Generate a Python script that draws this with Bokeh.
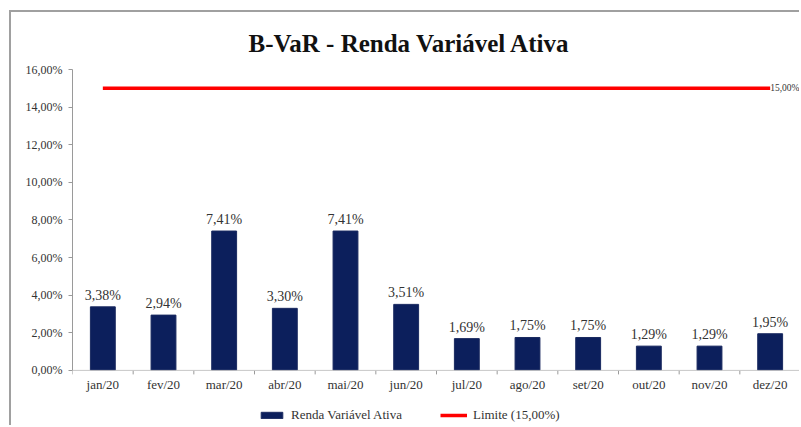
import math
from bokeh.plotting import figure
from bokeh.models import (ColumnDataSource, FixedTicker, LabelSet, Label, Legend,
                          LegendItem, Range1d, Title, Span)
from bokeh.embed import file_html
from bokeh.resources import INLINE

# ---- data ----
months = ["jan/20", "fev/20", "mar/20", "abr/20", "mai/20", "jun/20",
          "jul/20", "ago/20", "set/20", "out/20", "nov/20", "dez/20"]
var_values = [3.38, 2.94, 7.41, 3.30, 7.41, 3.51, 1.69, 1.75, 1.75, 1.29, 1.29, 1.95]
limit_values = [15.00, 15.00, 15.00, 15.00, 15.00, 15.00,
                15.00, 15.00, 15.00, 15.00, 15.00, 15.00]
y_ticks = [0, 2, 4, 6, 8, 10, 12, 14, 16]
y_tick_labels = ["0,00%", "2,00%", "4,00%", "6,00%", "8,00%", "10,00%",
                 "12,00%", "14,00%", "16,00%"]
title_text = "B-VaR - Renda Variável Ativa"
series_name = "Renda Variável Ativa"
limit_name = "Limite (15,00%)"


def pct(v):
    return ("%.2f" % v).replace(".", ",") + "%"


centers = [i + 0.5 for i in range(len(months))]
bounds = [i for i in range(len(months) + 1)]

src = ColumnDataSource(dict(
    x=centers, y=var_values, lim=limit_values, month=months,
    zero=[0] * len(months), lbl=[pct(v) for v in var_values],
))
tick_src = ColumnDataSource(dict(x=bounds, y=[0] * len(bounds)))

FONT = "Liberation Serif"
NAVY = "#0c1f5c"
TXT = "#333333"

p = figure(width=790, height=415, output_backend="svg", toolbar_location=None,
           x_range=Range1d(0, len(months)), y_range=Range1d(-2.93, 16),
           min_border_left=61, min_border_right=1, min_border_top=57,
           min_border_bottom=2, outline_line_color=None)
p.styles = {"margin-left": "9px", "margin-top": "10px",
            "border-left": "2px solid #a0a0a0", "border-top": "2px solid #a0a0a0"}

p.title = Title(text=title_text, align="left", offset=176, text_font=FONT,
                text_font_size="25px", text_font_style="bold",
                text_color="#111111", standoff=25)

p.xgrid.visible = False
p.ygrid.visible = False
p.xaxis.visible = False

bars = p.vbar(x="x", top="y", width=0.41, source=src, fill_color=NAVY,
              line_color="#1a2a60", line_width=1)
line = p.line(x="x", y="lim", source=src, line_color="#ff0000", line_width=3.5)

# manual category axis
p.add_layout(Span(location=0, dimension="width", line_color="#c8c8c8", line_width=1))
p.ray(x="x", y="y", source=tick_src, length=4, length_units="screen",
      angle=-math.pi / 2, line_color="#9a9a9a", line_width=1)
p.add_layout(LabelSet(x="x", y="zero", text="month", source=src, text_align="center",
                      text_baseline="top", y_offset=-7, text_font=FONT,
                      text_font_size="13px", text_color=TXT))

labels = LabelSet(x="x", y="y", text="lbl", source=src, text_align="center",
                  text_baseline="bottom", y_offset=4, text_font=FONT,
                  text_font_size="14px", text_color=TXT)
p.add_layout(labels)

p.add_layout(Label(x=centers[-1], y=limit_values[-1], text=pct(limit_values[-1]),
                   text_align="left", text_baseline="middle", x_offset=0,
                   text_font=FONT, text_font_size="9.5px", text_color=TXT))

# y axis
p.yaxis.ticker = FixedTicker(ticks=y_ticks)
p.yaxis.bounds = (0, 16)
p.yaxis.major_label_overrides = {t: l for t, l in zip(y_ticks, y_tick_labels)}
p.yaxis.major_label_text_font = FONT
p.yaxis.major_label_text_font_size = "12px"
p.yaxis.major_label_text_color = TXT
p.yaxis.axis_line_color = "#9a9a9a"
p.yaxis.major_tick_line_color = "#9a9a9a"
p.yaxis.major_tick_out = 4
p.yaxis.major_tick_in = 0
p.yaxis.minor_tick_line_color = None
p.yaxis.major_label_standoff = 6

legend = Legend(items=[LegendItem(label=series_name, renderers=[bars]),
                       LegendItem(label=limit_name, renderers=[line])],
                orientation="horizontal", location=(186, 2),
                label_text_font=FONT, label_text_font_size="13px",
                label_text_color=TXT, glyph_width=27, glyph_height=8,
                spacing=38, padding=2, margin=0, border_line_color=None,
                background_fill_alpha=0, label_standoff=6)
p.add_layout(legend)

open("out.html", "w").write(file_html(p, INLINE))
